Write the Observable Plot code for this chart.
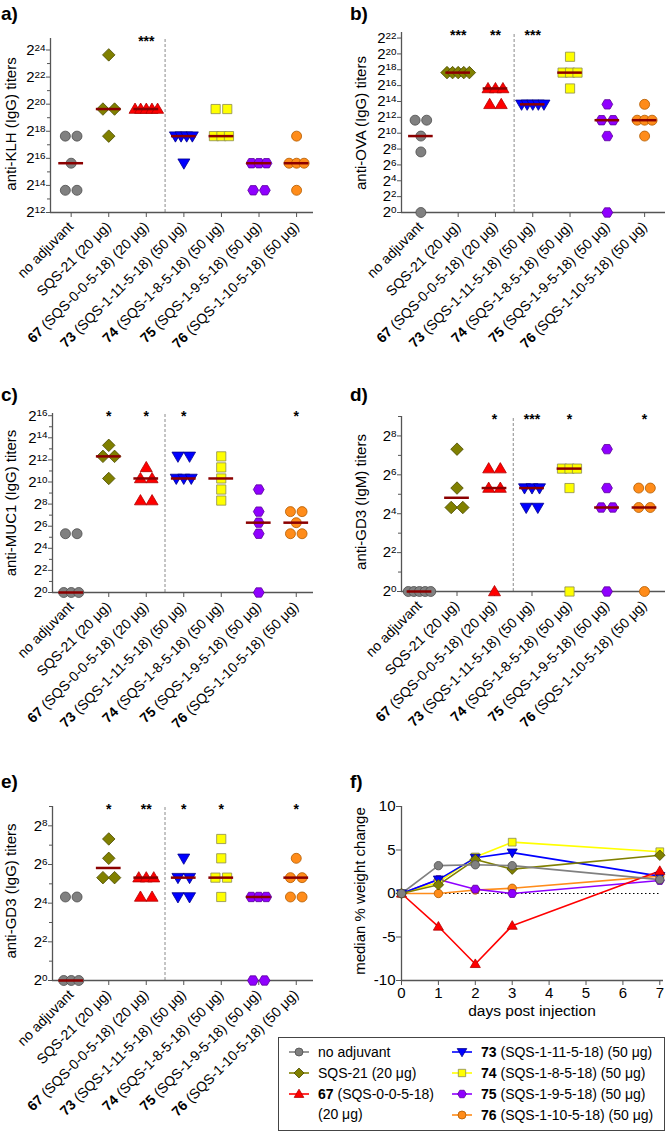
<!DOCTYPE html>
<html><head><meta charset="utf-8">
<script src="https://cdn.jsdelivr.net/npm/d3@7"></script>
<script src="https://cdn.jsdelivr.net/npm/@observablehq/plot@0.6"></script>
<style>
body{margin:0;background:#fff;font-family:"Liberation Sans",Arial,Helvetica,sans-serif;color:#000;}
#root{position:relative;width:666px;height:1134px;overflow:hidden;background:#fff;}
.panel{position:absolute;}
.panel svg{overflow:visible;}
.tag{position:absolute;font-weight:bold;font-size:19px;line-height:1;}
.ylab{position:absolute;font-size:15px;white-space:nowrap;transform:translate(-50%,-50%) rotate(-90deg);line-height:1;}
.xlab{position:absolute;font-size:15.5px;white-space:nowrap;transform:translate(-50%,-50%);line-height:1;}
.legend{position:absolute;border:1px solid #444;box-sizing:border-box;}
.lrow{position:absolute;font-size:14px;white-space:nowrap;line-height:1;transform:translateY(-50%);}
.licon{position:absolute;transform:translateY(-50%);}
</style></head>
<body><div id="root"></div>
<script>
// ---------- data ----------
const categories = ["no adjuvant","SQS-21 (20 μg)","67 (SQS-0-0-5-18) (20 μg)","73 (SQS-1-11-5-18) (50 μg)","74 (SQS-1-8-5-18) (50 μg)","75 (SQS-1-9-5-18) (50 μg)","76 (SQS-1-10-5-18) (50 μg)"];
const legendLabels = ["no adjuvant","SQS-21 (20 μg)","67 (SQS-0-0-5-18)\n(20 μg)","73 (SQS-1-11-5-18) (50 μg)","74 (SQS-1-8-5-18) (50 μg)","75 (SQS-1-9-5-18) (50 μg)","76 (SQS-1-10-5-18) (50 μg)"];
const colors  = ["#808080","#808000","#ff0000","#0000ff","#ffff00","#8f00ff","#ff8c1a"];
const strokes = ["#4d4d4d","#4a4a00","#b00000","#00008b","#8c8c50","#5a0099","#b35c00"];

// log2 titers per group
const klhIgG = [[17.64,17.64,15.64,13.64,13.64],[23.64,19.64,19.64,17.64],[19.64,19.64,19.64,19.64,19.64],[17.64,17.64,17.64,17.64,15.64],[19.64,19.64,17.64,17.64,17.64],[15.64,15.64,15.64,13.64,13.64],[17.64,15.64,15.64,15.64,13.64]];
const klhStars = ["","","***","","","",""];
const ovaIgG = [[11.64,11.64,9.64,7.64,0],[17.64,17.64,17.64,17.64,17.64],[15.64,15.64,15.64,13.64,13.64],[13.64,13.64,13.64,13.64,13.64],[19.64,17.64,17.64,17.64,15.64],[13.64,11.64,11.64,9.64,0],[13.64,11.64,11.64,11.64,9.64]];
const ovaStars = ["","***","**","***","","",""];
const muc1IgG = [[5.32,5.32,0,0,0],[13.32,12.32,12.32,10.32],[11.32,10.32,10.32,8.32,8.32],[12.32,12.32,10.32,10.32,10.32],[12.32,11.32,10.32,9.32,8.32],[9.32,7.32,6.32,5.32,0],[7.32,7.32,6.32,5.32,5.32]];
const muc1Stars = ["","*","*","*","","","*"];
const gd3IgM = [[0,0,0,0,0],[7.32,5.32,4.32,4.32],[6.32,6.32,5.32,5.32,0],[5.32,5.32,5.32,4.32,4.32],[6.32,6.32,6.32,5.32,0],[7.32,5.32,4.32,4.32,0],[5.32,5.32,4.32,4.32,0]];
const gd3IgMStars = ["","","*","***","*","","*"];
const gd3IgG = [[4.32,4.32,0,0,0],[7.32,6.32,5.32,5.32],[5.32,5.32,5.32,4.32,4.32],[6.32,5.32,5.32,4.32,4.32],[7.32,6.32,5.32,5.32,4.32],[4.32,4.32,4.32,0,0],[6.32,5.32,5.32,4.32,4.32]];
const gd3IgGStars = ["","*","**","*","*","","*"];

const days = [0,1,2,3,7];
const weightChange = [
  [0,3.2,3.3,3.2,1.6],
  [0,1.0,3.9,2.8,4.4],
  [0,-3.8,-8.1,-3.7,2.6],
  [0,1.6,4.1,4.7,2.0],
  [0,1.3,4.2,5.9,4.8],
  [0,1.6,0.5,0.0,1.5],
  [0,0.0,0.4,0.6,2.0]
];

// ---------- symbols ----------
function poly(pts){return {draw(ctx,size){const r=Math.sqrt(size/Math.PI);pts.forEach(([x,y],i)=>i?ctx.lineTo(x*r,y*r):ctx.moveTo(x*r,y*r));ctx.closePath();}};}
const symDiamond = poly([[0,-1.25],[1.25,0],[0,1.25],[-1.25,0]]);
const symTriUp = poly([[0,-1.2],[1.2,0.85],[-1.2,0.85]]);
const symTriDown = poly([[0,1.2],[1.2,-0.85],[-1.2,-0.85]]);
const symSquare = poly([[-0.92,-0.92],[0.92,-0.92],[0.92,0.92],[-0.92,0.92]]);
const symHex = poly(d3.range(6).map(k=>[1.08*Math.cos(k*Math.PI/3),1.08*Math.sin(k*Math.PI/3)]));
const symbols = [d3.symbolCircle,symDiamond,symTriUp,symTriDown,symSquare,symHex,d3.symbolCircle];

const FONT = "Liberation Sans, Arial, Helvetica, sans-serif";
const root = document.getElementById("root");

function richText(svg){
  svg.querySelectorAll("text").forEach(t=>{
    const s=t.textContent; let m;
    const NS="http://www.w3.org/2000/svg";
    if((m=s.match(/^2\^(\d+)$/))){
      t.textContent="";
      const a=document.createElementNS(NS,"tspan");a.textContent="2";t.appendChild(a);
      const b=document.createElementNS(NS,"tspan");b.textContent=m[1];b.setAttribute("dy","-0.42em");b.setAttribute("font-size","0.66em");t.appendChild(b);
    } else if((m=s.match(/^(\d\d) (.*)$/))){
      t.textContent="";
      const a=document.createElementNS(NS,"tspan");a.textContent=m[1];a.setAttribute("font-weight","bold");t.appendChild(a);
      const b=document.createElementNS(NS,"tspan");b.textContent=" "+m[2];t.appendChild(b);
    }
  });
}

function place(el,left,top){const d=document.createElement("div");d.className="panel";d.style.left=left+"px";d.style.top=top+"px";d.appendChild(el);root.appendChild(d);return d;}
function addDiv(cls,text,x,y){const d=document.createElement("div");d.className=cls;d.textContent=text;d.style.left=x+"px";d.style.top=y+"px";root.appendChild(d);return d;}

function dotPanel(cfg){
  const {values,stars,yDomain,major,minor,xDomain} = cfg;
  const rows=[];
  values.forEach((vals,i)=>{
    for(const [v,arr] of d3.groups(vals,d=>d)){
      const n=arr.length;
      const sep=n===1?0:n===2?0.31:n===3?0.2:0.15;
      arr.forEach((_,k)=>rows.push({i,x:i+(k-(n-1)/2)*sep,y:v}));
    }
  });
  const medians=values.map((vals,i)=>({i,m:d3.median(vals)}));
  const starRows=stars.map((s,i)=>({i,s})).filter(d=>d.s);
  const sepX=categories.findIndex(c=>c.startsWith("73"))-0.5;
  const svg=Plot.plot({
    width:cfg.width,height:cfg.height,
    marginLeft:cfg.ml,marginRight:cfg.mr,marginTop:cfg.mt,marginBottom:cfg.mb,
    style:{fontFamily:FONT,background:"transparent",color:"#000",overflow:"visible"},
    x:{domain:xDomain},
    y:{domain:yDomain},
    marks:[
      Plot.ruleX([sepX],{y1:()=>yDomain[0],y2:()=>yDomain[1],stroke:"#8a8a8a",strokeWidth:1,strokeDasharray:"3,2"}),
      Plot.axisY({ticks:minor,tickSize:3,tickFormat:()=>"",stroke:"#555",label:null}),
      Plot.axisY({ticks:major,tickSize:4,tickPadding:1,tickFormat:v=>`2^${v}`,fontSize:15,stroke:"#555",label:null}),
      Plot.axisX({ticks:d3.range(categories.length),tickSize:5,tickFormat:i=>categories[i],tickRotate:-45,fontSize:14,stroke:"#555",label:null}),
      Plot.ruleX([xDomain[0]],{stroke:"#555",strokeWidth:1.3}),
      Plot.ruleY([yDomain[0]],{stroke:"#555",strokeWidth:1.3}),
      ...categories.map((c,i)=>Plot.dot(rows.filter(d=>d.i===i),{x:"x",y:"y",symbol:symbols[i],r:5,fill:colors[i],stroke:strokes[i],strokeWidth:0.8})),
      Plot.ruleY(medians,{y:"m",x1:d=>d.i-0.33,x2:d=>d.i+0.33,stroke:"#8b0000",strokeWidth:2.5}),
      Plot.text(starRows,{x:"i",y:()=>yDomain[1],text:"s",fontSize:14,fontWeight:"bold",lineAnchor:"top",dy:-2})
    ]
  });
  richText(svg);
  place(svg,cfg.left,cfg.top);
}

dotPanel({values:klhIgG,stars:klhStars,left:0,top:0,width:333,height:372,ml:50,mr:20,mt:38,mb:160,xDomain:[-0.55,6.45],yDomain:[12,24.85],major:d3.range(12,25,2),minor:d3.range(13,25,2)});
dotPanel({values:ovaIgG,stars:ovaStars,left:333,top:0,width:333,height:372,ml:68,mr:1,mt:32,mb:160,xDomain:[-0.52,6.56],yDomain:[0,22.7],major:d3.range(0,23,2),minor:[]});
dotPanel({values:muc1IgG,stars:muc1Stars,left:0,top:380,width:333,height:360,ml:52,mr:20,mt:33,mb:148,xDomain:[-0.5,6.46],yDomain:[0,16.2],major:d3.range(0,17,2),minor:d3.range(1,16,2)});
dotPanel({values:gd3IgM,stars:gd3IgMStars,left:333,top:380,width:333,height:360,ml:68,mr:1,mt:36,mb:149,xDomain:[-0.48,6.56],yDomain:[0,9],major:d3.range(0,9,2),minor:d3.range(1,10,2)});
dotPanel({values:gd3IgG,stars:gd3IgGStars,left:0,top:740,width:333,height:394,ml:52,mr:20,mt:66,mb:154,xDomain:[-0.5,6.46],yDomain:[0,9],major:d3.range(0,9,2),minor:d3.range(1,10,2)});

// ---------- panel f ----------
(function(){
  const fRows=[];
  weightChange.forEach((vals,s)=>vals.forEach((v,k)=>fRows.push({s,day:days[k],v})));
  const order=d3.range(weightChange.length).reverse();
  const xDomain=[0,7.1], yDomain=[-10,10];
  const svg=Plot.plot({
    width:333,height:300,marginLeft:68,marginRight:3,marginTop:66,marginBottom:60,
    style:{fontFamily:FONT,background:"transparent",color:"#000",overflow:"visible"},
    x:{domain:xDomain},y:{domain:yDomain},
    marks:[
      Plot.axisY({ticks:[-10,-5,0,5,10],tickSize:5,tickPadding:1,fontSize:15,stroke:"#555",label:null,tickFormat:d=>String(d)}),
      Plot.axisX({ticks:d3.range(0,8),tickSize:5,tickPadding:2,fontSize:15,stroke:"#555",label:null}),
      Plot.ruleX([xDomain[0]],{stroke:"#555",strokeWidth:1.3}),
      Plot.ruleY([yDomain[0]],{stroke:"#555",strokeWidth:1.3}),
      Plot.ruleY([0],{x1:()=>d3.min(days),x2:()=>d3.max(days),stroke:"#000",strokeWidth:1.2,strokeDasharray:"1.5,2.5"}),
      ...order.map(s=>Plot.line(fRows.filter(d=>d.s===s),{x:"day",y:"v",stroke:colors[s],strokeWidth:1.6})),
      ...order.map(s=>Plot.dot(fRows.filter(d=>d.s===s),{x:"day",y:"v",symbol:symbols[s],r:4.2,fill:colors[s],stroke:strokes[s],strokeWidth:0.8}))
    ]
  });
  place(svg,333,740);
})();

// ---------- labels ----------
[["a)",1,4],["b)",350,4],["c)",1,385],["d)",350,385],["e)",1,772],["f)",350,772]].forEach(([t,x,y])=>addDiv("tag",t,x,y));
[["anti-KLH (IgG) titers",9.5,124],["anti-OVA (IgG) titers",360,123],["anti-MUC1 (IgG) titers",9.5,503],["anti-GD3 (IgM) titers",360,502],["anti-GD3 (IgG) titers",9.5,891],["median % weight change",359,891]].forEach(([t,x,y])=>addDiv("ylab",t,x,y));
addDiv("xlab","days post injection",532,1011);

// ---------- legend ----------
(function(){
  const box=document.createElement("div");box.className="legend";
  box.style.left="278px";box.style.top="1037px";box.style.width="387px";box.style.height="94px";
  root.appendChild(box);
  const pos=[[288,1052],[288,1073],[288,1094],[451,1052],[451,1073],[451,1094],[451,1115]];
  legendLabels.forEach((lab,i)=>{
    const [x,y]=pos[i];
    const ns="http://www.w3.org/2000/svg";
    const s=document.createElementNS(ns,"svg");s.setAttribute("width","22");s.setAttribute("height","14");
    s.setAttribute("class","licon");s.style.left=x+"px";s.style.top=y+"px";
    const ln=document.createElementNS(ns,"line");ln.setAttribute("x1","1");ln.setAttribute("x2","21");ln.setAttribute("y1","7");ln.setAttribute("y2","7");
    ln.setAttribute("stroke",colors[i]);ln.setAttribute("stroke-width","1.6");s.appendChild(ln);
    const p=document.createElementNS(ns,"path");p.setAttribute("d",d3.symbol(symbols[i],Math.PI*16)());
    p.setAttribute("transform","translate(11,7)");p.setAttribute("fill",colors[i]);p.setAttribute("stroke",strokes[i]);p.setAttribute("stroke-width","0.8");
    s.appendChild(p);root.appendChild(s);
    const lines=lab.split("\n");
    lines.forEach((l,j)=>{
      const d=document.createElement("div");d.className="lrow";d.style.left=(x+30)+"px";d.style.top=(y+j*20)+"px";
      const m=l.match(/^(\d\d) (.*)$/);
      if(m){const b=document.createElement("b");b.textContent=m[1];d.appendChild(b);d.appendChild(document.createTextNode(" "+m[2]));}
      else d.textContent=l;
      root.appendChild(d);
    });
  });
})();
</script>
</body></html>
